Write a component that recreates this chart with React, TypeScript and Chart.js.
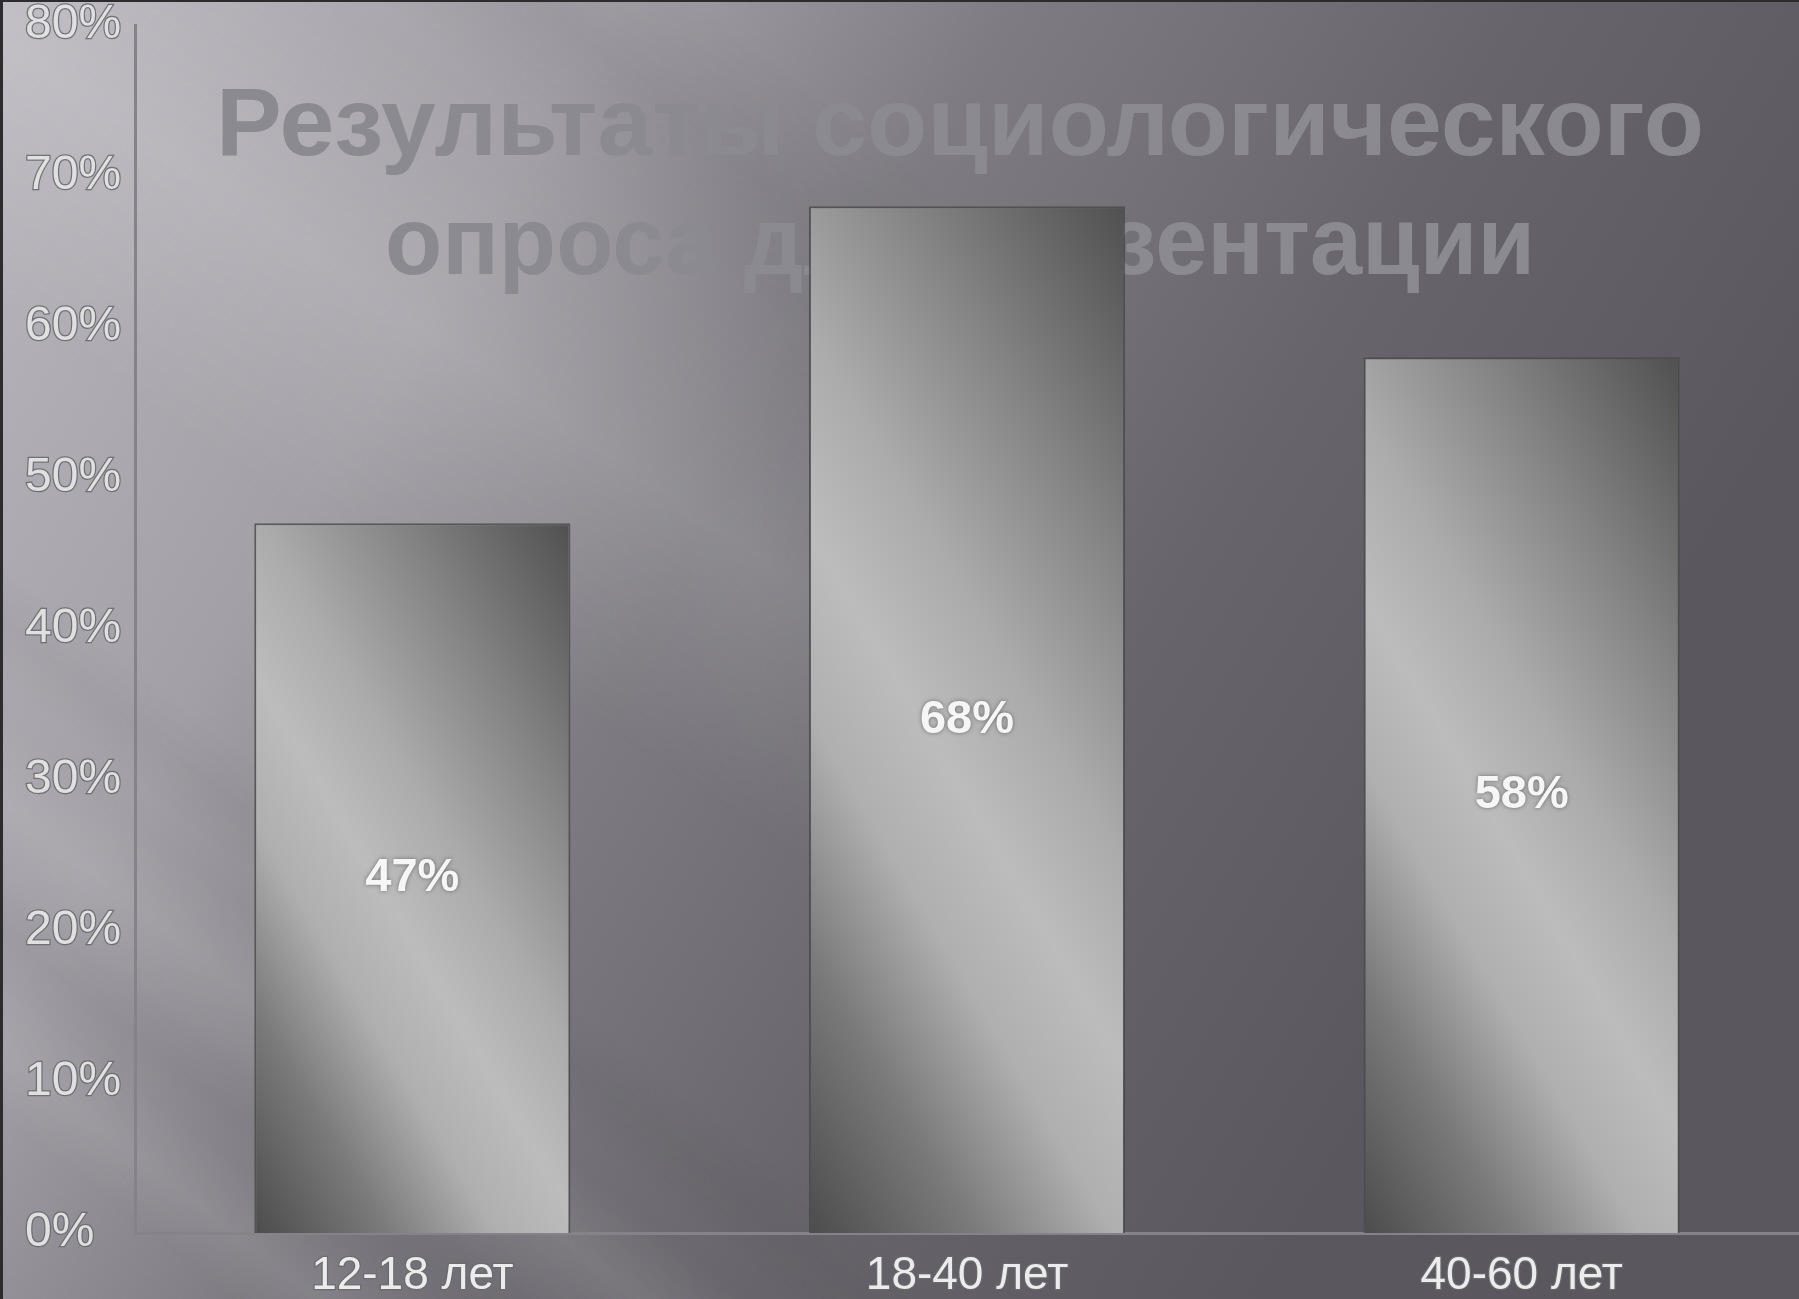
import React, { useEffect, useRef } from 'react';
import { Chart, registerables } from 'chart.js';

Chart.register(...registerables);

// ---- data ----
const categories = ['12-18 лет', '18-40 лет', '40-60 лет'];
const values = [47, 68, 58];
const Y_MIN = 0;
const Y_MAX = 80;
const Y_STEP = 10;
const titleLines = ['Результаты социологического', 'опроса для презентации'];

const W = 1799;
const H = 1299;
const BAR_PCT = 0.57;
const FONT = '"Liberation Sans", Arial, Helvetica, sans-serif';

function drawBand(ctx: CanvasRenderingContext2D, c: number, width: number, color: string, alpha: number, slope: number) {
  // soft band centred on the line y = c + slope * x
  const ang = Math.atan(slope);
  const nx = -Math.sin(ang);
  const ny = Math.cos(ang);
  const px = 0, py = c;
  const g = ctx.createLinearGradient(px - nx * width / 2, py - ny * width / 2, px + nx * width / 2, py + ny * width / 2);
  g.addColorStop(0, `rgba(${color},0)`);
  g.addColorStop(0.5, `rgba(${color},${alpha})`);
  g.addColorStop(1, `rgba(${color},0)`);
  ctx.save();
  ctx.fillStyle = g;
  const L = 4000;
  const dx = Math.cos(ang), dy = Math.sin(ang);
  ctx.beginPath();
  ctx.moveTo(px - dx * L - nx * width / 2, py - dy * L - ny * width / 2);
  ctx.lineTo(px + dx * L - nx * width / 2, py + dy * L - ny * width / 2);
  ctx.lineTo(px + dx * L + nx * width / 2, py + dy * L + ny * width / 2);
  ctx.lineTo(px - dx * L + nx * width / 2, py - dy * L + ny * width / 2);
  ctx.closePath();
  ctx.fill();
  ctx.restore();
}

const backgroundPlugin = {
  id: 'slideBackground',
  beforeDraw(chart: any) {
    const ctx: CanvasRenderingContext2D = chart.ctx;
    const w = chart.width, h = chart.height;
    ctx.save();
    const g = ctx.createLinearGradient(0, 0, 1500, 900);
    g.addColorStop(0, '#bab7be');
    g.addColorStop(0.3, '#a29fa6');
    g.addColorStop(0.5, '#7e7c82');
    g.addColorStop(0.75, '#67656b');
    g.addColorStop(1, '#5a585e');
    ctx.fillStyle = g;
    ctx.fillRect(0, 0, w, h);

    // light streaks, faded out toward the right
    const off = document.createElement('canvas');
    off.width = w;
    off.height = h;
    const o = off.getContext('2d');
    if (o) {
      drawBand(o, 40, 460, '255,255,255', 0.13, 0.68);
      drawBand(o, -430, 200, '40,40,50', 0.07, 0.8);
      drawBand(o, 800, 140, '255,255,255', 0.09, 0.78);
      drawBand(o, 1050, 110, '255,255,255', 0.08, 0.78);
      drawBand(o, 930, 90, '40,40,50', 0.05, 0.78);
      drawBand(o, 620, 90, '40,40,50', 0.04, 0.78);
      o.globalCompositeOperation = 'destination-in';
      const m = o.createLinearGradient(0, 0, w, 0);
      m.addColorStop(0, 'rgba(0,0,0,1)');
      m.addColorStop(0.42, 'rgba(0,0,0,1)');
      m.addColorStop(0.62, 'rgba(0,0,0,0)');
      m.addColorStop(1, 'rgba(0,0,0,0)');
      o.fillStyle = m;
      o.fillRect(0, 0, w, h);
      ctx.drawImage(off, 0, 0);
    }

    // dark frame edges
    ctx.fillStyle = '#2c2b2e';
    ctx.fillRect(0, 0, 3, h);
    ctx.fillRect(0, 0, w, 2);
    ctx.restore();
  },
};

const titlePlugin = {
  id: 'slideTitle',
  beforeDatasetsDraw(chart: any) {
    const ctx: CanvasRenderingContext2D = chart.ctx;
    const baselines = [155, 274];
    const sx = [1.017, 0.967];
    titleLines.forEach((t, i) => {
      ctx.save();
      ctx.font = `bold 97px ${FONT}`;
      ctx.fillStyle = 'rgb(140,138,145)';
      ctx.textAlign = 'center';
      ctx.textBaseline = 'alphabetic';
      ctx.translate(960, baselines[i]);
      ctx.scale(sx[i], 1);
      ctx.fillText(t, 0, 0);
      ctx.restore();
    });
  },
};

const valueLabelPlugin = {
  id: 'valueLabels',
  afterDatasetsDraw(chart: any) {
    const ctx: CanvasRenderingContext2D = chart.ctx;
    const meta = chart.getDatasetMeta(0);
    ctx.save();
    ctx.font = `bold 47px ${FONT}`;
    ctx.textAlign = 'center';
    ctx.textBaseline = 'middle';
    meta.data.forEach((el: any, i: number) => {
      const { x, y, base } = el.getProps(['x', 'y', 'base'], true);
      const cy = (y + base) / 2;
      ctx.shadowColor = 'rgba(60,60,60,0.6)';
      ctx.shadowBlur = 4;
      ctx.fillStyle = '#f6f6f6';
      ctx.fillText(`${values[i]}%`, x, cy);
    });
    ctx.restore();
  },
};

function barFill(context: any) {
  const chart = context.chart;
  if (!chart.chartArea || context.type !== 'data') return '#999999';
  const xs = chart.scales.x;
  const ys = chart.scales.y;
  const i = context.dataIndex;
  const cx = xs.getPixelForValue(i);
  const bw = (xs.width / categories.length) * BAR_PCT;
  const top = ys.getPixelForValue(values[i]);
  const bottom = ys.getPixelForValue(0);
  const h = bottom - top;
  const cy = (top + bottom) / 2;
  const len = Math.hypot(1.7, 1);
  const gx = 1.7 / len, gy = -1 / len;
  const e = (bw / 2) * gx + (h / 2) * Math.abs(gy);
  if (!isFinite(e) || !isFinite(cx) || !isFinite(cy)) return '#999999';
  const g = chart.ctx.createLinearGradient(cx - e * gx, cy - e * gy, cx + e * gx, cy + e * gy);
  g.addColorStop(0, '#4c4c4c');
  g.addColorStop(0.18, '#7a7a7a');
  g.addColorStop(0.33, '#afafaf');
  g.addColorStop(0.45, '#bcbcbc');
  g.addColorStop(0.58, '#ababab');
  g.addColorStop(0.78, '#818181');
  g.addColorStop(1, '#505050');
  return g;
}

export default function App() {
  const ref = useRef<HTMLCanvasElement | null>(null);

  useEffect(() => {
    if (!ref.current) return;
    const chart = new Chart(ref.current, {
      type: 'bar',
      data: {
        labels: categories,
        datasets: [
          {
            data: values,
            backgroundColor: barFill,
            borderColor: 'rgba(72,72,74,0.8)',
            borderWidth: 2,
            categoryPercentage: 1,
            barPercentage: BAR_PCT,
          },
        ],
      },
      options: {
        responsive: false,
        animation: false,
        devicePixelRatio: 1,
        layout: { padding: { top: 25, left: 25, right: 0, bottom: 0 } },
        plugins: {
          legend: { display: false },
          tooltip: { enabled: false },
          title: { display: false },
        },
        scales: {
          x: {
            grid: { display: false, drawTicks: false },
            border: { display: true, color: '#858389', width: 3 },
            ticks: {
              color: '#ececec',
              font: { family: FONT, size: 46 },
              padding: 16,
              textStrokeColor: 'rgba(105,105,110,0.9)',
              textStrokeWidth: 2.5,
            },
            afterFit: (scale: any) => {
              scale.height = 66;
              scale.paddingLeft = 0;
              scale.paddingRight = 0;
            },
          },
          y: {
            min: Y_MIN,
            max: Y_MAX,
            grid: { display: false, drawTicks: false },
            border: { display: true, color: '#858389', width: 3 },
            ticks: {
              stepSize: Y_STEP,
              color: '#e0e0e0',
              crossAlign: 'far',
              font: { family: FONT, size: 48 },
              padding: 14,
              textStrokeColor: 'rgba(105,105,110,0.9)',
              textStrokeWidth: 2.5,
              callback: (v: any) => `${v}%`,
            },
            afterFit: (scale: any) => {
              scale.width = 110;
              scale.paddingTop = 0;
              scale.paddingBottom = 0;
            },
          },
        },
      } as any,
      plugins: [backgroundPlugin, titlePlugin, valueLabelPlugin],
    });
    return () => chart.destroy();
  }, []);

  return (
    <div style={{ position: 'absolute', left: 0, top: 0, width: W, height: H }}>
      <canvas ref={ref} width={W} height={H} style={{ width: W, height: H, display: 'block' }} />
    </div>
  );
}
